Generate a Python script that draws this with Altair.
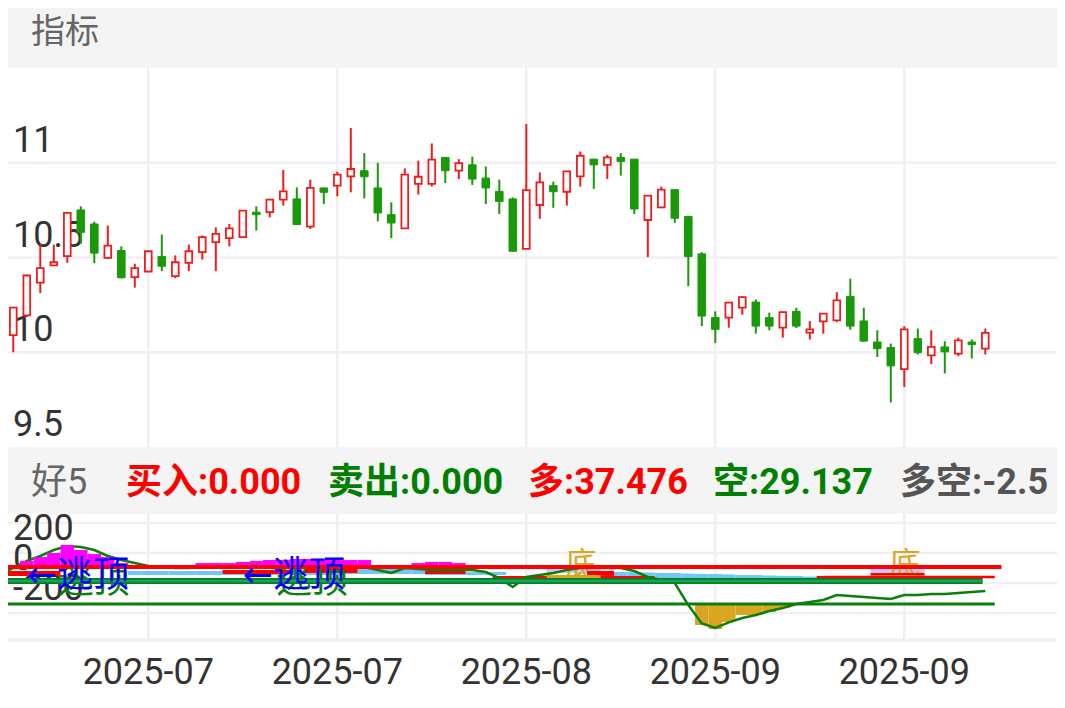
import altair as alt
import pandas as pd

# ---------------- data ----------------
OPEN = [9.92, 10.09, 10.195, 10.367, 10.458, 10.507, 10.751, 10.677, 10.498, 10.537,
        10.396, 10.426, 10.505, 10.402, 10.472, 10.528, 10.581, 10.602, 10.607, 10.739,
        10.739, 10.805, 10.809, 10.663, 10.867, 10.879, 10.928, 10.958, 10.867, 10.726,
        10.654, 10.888, 10.888, 11.028, 10.958, 10.989, 10.919, 10.849, 10.809, 10.546,
        10.777, 10.879, 10.847, 10.928, 11.019, 10.989, 11.028, 11.019, 10.698, 10.765,
        10.858, 10.717, 10.519, 10.183, 10.183, 10.235, 10.265, 10.183, 10.130, 10.216,
        10.104, 10.163, 10.168, 10.295, 10.165, 10.054, 10.025, 9.911, 10.072, 9.984,
        10.028, 9.993, 10.054, 10.019]
HIGH = [10.13, 10.24, 10.41, 10.572, 10.568, 10.739, 10.770, 10.689, 10.668, 10.559,
        10.467, 10.535, 10.621, 10.511, 10.568, 10.616, 10.659, 10.677, 10.750, 10.770,
        10.810, 10.962, 10.870, 10.911, 10.868, 10.953, 11.183, 11.051, 11.000, 10.791,
        10.970, 11.011, 11.102, 11.030, 11.019, 11.032, 10.980, 10.911, 10.817, 11.204,
        10.949, 10.900, 10.957, 11.059, 11.021, 11.042, 11.051, 11.020, 10.830, 10.874,
        10.860, 10.720, 10.528, 10.216, 10.265, 10.295, 10.279, 10.209, 10.215, 10.235,
        10.165, 10.206, 10.317, 10.388, 10.235, 10.116, 10.046, 10.137, 10.125, 10.116,
        10.058, 10.077, 10.067, 10.125]
LOW = [9.90, 10.00, 10.186, 10.312, 10.458, 10.472, 10.572, 10.470, 10.496, 10.390,
       10.341, 10.424, 10.428, 10.391, 10.428, 10.489, 10.428, 10.559, 10.605, 10.642,
       10.712, 10.774, 10.672, 10.651, 10.782, 10.823, 10.844, 10.812, 10.691, 10.602,
       10.652, 10.832, 10.874, 10.893, 10.914, 10.883, 10.782, 10.730, 10.531, 10.545,
       10.704, 10.762, 10.774, 10.874, 10.862, 10.914, 10.932, 10.730, 10.502, 10.760,
       10.683, 10.349, 10.138, 10.049, 10.130, 10.198, 10.098, 10.116, 10.077, 10.128,
       10.067, 10.098, 10.159, 10.119, 10.055, 9.975, 9.735, 9.817, 9.988, 9.937,
       9.888, 9.979, 9.967, 9.988]
CLOSE = [10.12, 10.235, 10.405, 10.444, 10.475, 10.735, 10.633, 10.523, 10.563, 10.393,
         10.444, 10.533, 10.454, 10.475, 10.533, 10.607, 10.625, 10.654, 10.747, 10.726,
         10.805, 10.849, 10.674, 10.867, 10.844, 10.937, 10.967, 10.926, 10.735, 10.682,
         10.937, 10.926, 11.017, 10.958, 10.998, 10.914, 10.867, 10.796, 10.533, 10.856,
         10.896, 10.847, 10.954, 11.037, 10.989, 11.028, 11.007, 10.756, 10.826, 10.858,
         10.707, 10.505, 10.191, 10.121, 10.262, 10.291, 10.138, 10.138, 10.212, 10.138,
         10.121, 10.204, 10.274, 10.138, 10.059, 10.019, 9.928, 10.121, 9.998, 10.028,
         10.002, 10.063, 10.040, 10.102]
N = len(OPEN)
IDX = list(range(N))

PRICE_TICKS = [11, 10.5, 10, 9.5]
PRICE_LABELS = ["11", "10.5", "10", "9.5"]
PRICE_GRID = [11, 10.5, 10]
IND_TICKS = [200, 0, -200]
IND_LABELS = ["200", "0", "-200"]
IND_GRID = [400, 200, 0, -200]
IND_BOTTOM = -380
DATE_TICK_IDX = [11, 25, 39, 53, 67]
DATE_LABELS = ["2025-07", "2025-07", "2025-08", "2025-09", "2025-09"]

# green indicator line (lower panel)
DK = [53, 100, 147, 180, 220, 247, 240, 220, 180, 153,
      133, 113, 107, 100, 100, 107, 113, 120, 127, 133,
      140, 147, 147, 147, 140, 133, 113, 107, 87, 67,
      100, 93, 87, 87, 87, 87, 73, 33, -27, 40,
      53, 67, 87, 100, 100, 100, 100, 80, 40, 20,
      0, -147, -270, -300, -262, -233, -213, -187, -167, -140,
      -127, -113, -80, -87, -93, -100, -107, -80, -80, -73,
      -73, -67, -60, -53]

# magenta histogram (above the red level)
PINK_IDX = [2, 3, 4, 5, 6, 7, 8, 9, 10,
            15, 16, 17, 18, 19, 20, 21, 22, 23, 24, 25, 26, 27,
            31, 32, 33, 34]
PINK_VAL = [147, 173, 200, 253, 220, 193, 173, 133, 120,
            133, 133, 133, 140, 147, 153, 153, 160, 160, 160, 153, 153, 153,
            133, 140, 140, 133]
PINK_BASE = 107

# golden histogram (below the lower green level)
GOLD_IDX = [52, 53, 54, 55, 56, 57, 58]
GOLD_VAL = [-280, -307, -260, -213, -213, -193, -167]
GOLD_BASE = -140

# light blue band
LB_IDX = [0, 1] + list(range(10, 18)) + list(range(18, 26)) + list(range(26, 32)) + list(range(32, 38)) + list(range(46, 62))
LB_TOP = [80, 80] + [80] * 8 + [87] * 8 + [100] * 6 + [73] * 6 + \
         [73, 73, 70, 67, 67, 63, 60, 60, 57, 53, 53, 50, 47, 47, 43, 40]
LB_BOT = [53, 53] + [53] * 8 + [53] * 8 + [60] * 6 + [53] * 6 + [33] * 16

# small red / gold / lavender segments: start idx, end idx, top, bottom
RED_A = [0, 17, 23, 32, 37, 44, 61, 65]
RED_B = [4, 21, 26, 34, 48, 45, 65, 68]
RED_TOP = [80, 87, 100, 80, 47, 80, 47, 67]
RED_BOT = [47, 60, 67, 60, 33, 47, 33, 47]
GSEG_A, GSEG_B, GSEG_TOP, GSEG_BOT = [41, 65], [44, 68], [53, 53], [33, 33]
LAV_A, LAV_B, LAV_TOP, LAV_BOT = [41, 65], [44, 68], [93, 93], [67, 67]

# level lines: value, start idx, end idx
LEVEL_VAL = [107, 13, -140, 40]
LEVEL_A = [-1, -1, -1, 61]
LEVEL_B = [74.2, 72.8, 73.7, 73.7]

# annotations
TOP_IDX, TOP_TEXT = [2, 18], ["←逃顶", "←逃顶"]
TOP_SHADOW_IDX = [4.3, 20.45]
BOTTOM_IDX, BOTTOM_TEXT = [43.05, 67.05], ["底", "底"]

HEADER = "指标"
MID_TEXTS = ["好5", "买入:0.000", "卖出:0.000", "多:37.476", "空:29.137", "多空:-2.5"]

# ---------------- layout / style ----------------
W, H, OFF = 1049, 692, 8
STEP = 13.5
RED, GREEN, GRID = "#ee1c1c", "#1a9a0a", "#f0f0f2"
FONT = "Roboto, 'Noto Sans CJK SC', sans-serif"
CJK = "'Noto Sans CJK SC', sans-serif"
ARROW_FONT = "'DejaVu Sans', 'Noto Sans CJK SC', sans-serif"
MID_COLORS = ["#666666", "#ff0000", "#008000", "#ff0000", "#008000", "#555555"]
MID_BOLD = ["normal", "bold", "bold", "bold", "bold", "bold"]
MID_X = [31, 126, 328, 528, 713, 900]
LEVEL_COLORS = ["#ff0000", "#08801a", "#0a7f0a", "#ff0000"]
LEVEL_WIDTHS = [4, 6, 3, 2.5]

XS = alt.Scale(domain=[(OFF + 0.2) / STEP, (W + OFF + 0.2) / STEP], zero=False, nice=False)
PS = alt.Scale(domain=[9.5, 11.5], range=[447 - OFF, 68 - OFF], zero=False, nice=False)
IS = alt.Scale(domain=[-380, 460], range=[640 - OFF, 514 - OFF], zero=False, nice=False)


def X(f):
    return alt.X(f"{f}:Q", scale=XS, axis=None)


def YP(f):
    return alt.Y(f"{f}:Q", scale=PS, axis=None)


def YI(f):
    return alt.Y(f"{f}:Q", scale=IS, axis=None)


one = pd.DataFrame({"k": [0]})


def band(y0, y1, color):
    return alt.Chart(one).mark_rect(color=color).encode(
        x=alt.value(0), x2=alt.value(W), y=alt.value(y0 - OFF), y2=alt.value(y1 - OFF))


def segs(a, b, top, bot, color, opacity=1.0):
    df = pd.DataFrame({"a": [v - 0.5 for v in a], "b": [v + 0.5 for v in b], "t": top, "u": bot})
    return alt.Chart(df).mark_rect(color=color, opacity=opacity).encode(
        x=X("a"), x2=alt.X2("b"), y=YI("t"), y2=alt.Y2("u"))


cd = pd.DataFrame({"i": IDX, "o": OPEN, "h": HIGH, "l": LOW, "c": CLOSE})
up = cd[cd.c >= cd.o].copy()
dn = cd[cd.c < cd.o].copy()
up["x1"], up["x2"] = up.i - 0.25, up.i + 0.25
dn["x1"], dn["x2"] = dn.i - 0.28, dn.i + 0.28

layers = []
layers.append(band(0, 68, "#f4f4f4"))
layers.append(alt.Chart(one).mark_text(text=HEADER, align="left", baseline="middle", fontSize=34,
                                       font=FONT, color="#666666").encode(
    x=alt.value(31 - OFF), y=alt.value(33 - OFF)))

# grid
layers.append(alt.Chart(pd.DataFrame({"i": DATE_TICK_IDX})).mark_rule(color=GRID, strokeWidth=2.5).encode(
    x=X("i"), y=alt.value(68 - OFF), y2=alt.value(640 - OFF)))
layers.append(alt.Chart(pd.DataFrame({"v": PRICE_GRID})).mark_rule(color=GRID, strokeWidth=2.5).encode(
    x=alt.value(0), x2=alt.value(W), y=YP("v")))
layers.append(alt.Chart(pd.DataFrame({"v": IND_GRID})).mark_rule(color=GRID, strokeWidth=2.5).encode(
    x=alt.value(0), x2=alt.value(W), y=YI("v")))
layers.append(alt.Chart(pd.DataFrame({"v": [IND_BOTTOM]})).mark_rule(color=GRID, strokeWidth=3).encode(
    x=alt.value(0), x2=alt.value(W), y=YI("v")))

# price labels
layers.append(alt.Chart(pd.DataFrame({"v": PRICE_TICKS, "t": PRICE_LABELS})).mark_text(
    align="left", baseline="alphabetic", dy=-11, fontSize=36, font=FONT, color="#333333").encode(
    x=alt.value(13 - OFF), y=YP("v"), text="t:N"))

# candles
layers.append(alt.Chart(up).mark_rule(color=RED, strokeWidth=2).encode(x=X("i"), y=YP("l"), y2=alt.Y2("h")))
layers.append(alt.Chart(dn).mark_rule(color=GREEN, strokeWidth=2).encode(x=X("i"), y=YP("l"), y2=alt.Y2("h")))
layers.append(alt.Chart(up).mark_rect(fill="white", stroke=RED, strokeWidth=1.8).encode(
    x=X("x1"), x2=alt.X2("x2"), y=YP("o"), y2=alt.Y2("c")))
layers.append(alt.Chart(dn).mark_rect(fill=GREEN, stroke=GREEN, strokeWidth=1).encode(
    x=X("x1"), x2=alt.X2("x2"), y=YP("o"), y2=alt.Y2("c")))

# middle band
layers.append(band(447, 514, "#f4f4f4"))
for t, col, wt, x0 in zip(MID_TEXTS, MID_COLORS, MID_BOLD, MID_X):
    layers.append(alt.Chart(one).mark_text(text=t, align="left", baseline="alphabetic", fontSize=36,
                                           font=FONT, fontWeight=wt, color=col).encode(
        x=alt.value(x0 - OFF), y=alt.value(494 - OFF)))

# lower panel labels
layers.append(alt.Chart(pd.DataFrame({"v": IND_TICKS, "t": IND_LABELS})).mark_text(
    align="left", baseline="alphabetic", dy=-13, fontSize=36, font=FONT, color="#333333").encode(
    x=alt.value(13 - OFF), y=YI("v"), text="t:N"))

# lower panel indicator pieces
lb = pd.DataFrame({"a": [i - 0.5 for i in LB_IDX], "b": [i + 0.5 for i in LB_IDX], "t": LB_TOP, "u": LB_BOT})
layers.append(alt.Chart(lb).mark_rect(color="#6cc8f4").encode(x=X("a"), x2=alt.X2("b"), y=YI("t"), y2=alt.Y2("u")))
layers.append(segs(LAV_A, LAV_B, LAV_TOP, LAV_BOT, "#c8c8ff"))
layers.append(alt.Chart(pd.DataFrame({"i": BOTTOM_IDX, "t": BOTTOM_TEXT, "v": [120, 120]})).mark_text(
    align="center", baseline="middle", fontSize=31, font=CJK, color="#daa520").encode(
    x=X("i"), y=YI("v"), text="t:N"))
layers.append(segs(RED_A, RED_B, RED_TOP, RED_BOT, "#ff0000"))
layers.append(segs(GSEG_A, GSEG_B, GSEG_TOP, GSEG_BOT, "#daa520"))

gold = pd.DataFrame({"a": [i - 0.5 for i in GOLD_IDX], "b": [i + 0.5 for i in GOLD_IDX],
                     "v": GOLD_VAL, "base": [GOLD_BASE] * len(GOLD_IDX)})
layers.append(alt.Chart(gold).mark_rect(color="#daa520").encode(
    x=X("a"), x2=alt.X2("b"), y=YI("base"), y2=alt.Y2("v")))

layers.append(alt.Chart(pd.DataFrame({"i": TOP_SHADOW_IDX, "t": ["逃顶", "逃顶"], "v": [7, 7]})).mark_text(
    align="left", baseline="middle", fontSize=36, font=CJK, color="#0a800a").encode(
    x=X("i"), y=YI("v"), text="t:N"))

layers.append(alt.Chart(pd.DataFrame({"i": IDX, "v": DK})).mark_line(color="#0a800a", strokeWidth=2.5).encode(
    x=X("i"), y=YI("v")))

pink = pd.DataFrame({"a": [i - 0.5 for i in PINK_IDX], "b": [i + 0.5 for i in PINK_IDX],
                     "v": PINK_VAL, "base": [PINK_BASE] * len(PINK_IDX)})
layers.append(alt.Chart(pink).mark_rect(color="#ff00ff").encode(
    x=X("a"), x2=alt.X2("b"), y=YI("base"), y2=alt.Y2("v")))

for v, a, b, col, w in zip(LEVEL_VAL, LEVEL_A, LEVEL_B, LEVEL_COLORS, LEVEL_WIDTHS):
    df = pd.DataFrame({"v": [v], "a": [a], "b": [b]})
    layers.append(alt.Chart(df).mark_rule(color=col, strokeWidth=w).encode(
        x=X("a"), x2=alt.X2("b"), y=YI("v")))
    if w == 6:
        layers.append(alt.Chart(df).mark_rule(color="#14a468", strokeWidth=2.5).encode(
            x=X("a"), x2=alt.X2("b"), y=YI("v")))

layers.append(alt.Chart(pd.DataFrame({"i": TOP_IDX, "t": TOP_TEXT, "v": [47, 47]})).mark_text(
    align="left", baseline="middle", fontSize=36, font=ARROW_FONT, color="#0000ff").encode(
    x=X("i"), y=YI("v"), text="t:N"))

# x-axis labels
layers.append(alt.Chart(pd.DataFrame({"i": DATE_TICK_IDX, "t": DATE_LABELS})).mark_text(
    align="center", baseline="alphabetic", fontSize=36, font=FONT, color="#333333").encode(
    x=X("i"), y=alt.value(684 - OFF), text="t:N"))

chart = alt.layer(*layers).resolve_scale(y="independent").properties(
    width=W, height=H, autosize=alt.AutoSizeParams(type="none"), padding=0,
    background="white").configure_view(strokeWidth=0)

chart.save("out.html", embed_options={"renderer": "svg", "actions": False})
